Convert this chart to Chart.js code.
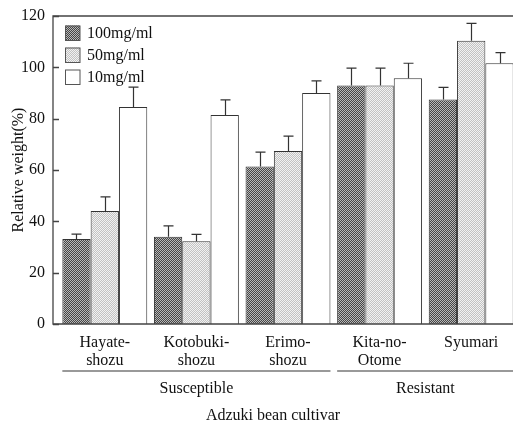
<!DOCTYPE html>
<html>
<head>
<meta charset="utf-8">
<script src="https://cdn.jsdelivr.net/npm/chart.js@4"></script>
<style>
  html, body { margin: 0; padding: 0; background: #fff; overflow: hidden; }
  #wrap { width: 513px; height: 422px; overflow: hidden; }
</style>
</head>
<body>
<div id="wrap"><canvas id="weights" width="520" height="422"></canvas></div>
<script>
// cultivars on the x axis (multi-line labels)
const cultivars = [['Hayate-', 'shozu'], ['Kotobuki-', 'shozu'], ['Erimo-', 'shozu'], ['Kita-no-', 'Otome'], ['Syumari']];
const doses = ['100mg/ml', '50mg/ml', '10mg/ml'];

// relative weight (%) and error (upper bar only)
const dose100 = [33.1, 34.0, 61.4, 92.9, 87.5];
const dose100Err = [1.9, 4.2, 5.6, 6.8, 4.7];
const dose50 = [44.0, 32.2, 67.4, 92.9, 110.4];
const dose50Err = [5.5, 2.7, 5.8, 6.8, 6.7];
const dose10 = [84.5, 81.4, 90.0, 95.7, 101.6];
const dose10Err = [7.8, 5.9, 4.7, 5.9, 4.1];

const groupNames = ['Susceptible', 'Resistant'];
const groupMembers = [[0, 1, 2], [3, 4]];

const yTicks = [0, 20, 40, 60, 80, 100, 120];

const FONT = '"Liberation Serif", "Times New Roman", serif';
const AXIS_X = 53;      // where the left frame line sits
const CAT_PCT = 0.927;

function checker(a, b) {
  const c = document.createElement('canvas');
  c.width = 2; c.height = 2;
  const g = c.getContext('2d');
  g.fillStyle = a; g.fillRect(0, 0, 2, 2);
  g.fillStyle = b; g.fillRect(0, 0, 1, 1); g.fillRect(1, 1, 1, 1);
  return g.createPattern(c, 'repeat');
}
const darkFill = checker('#454545', '#b8b8b8');
const lightFill = checker('#c2c2c2', '#f2f2f2');

const extras = {
  id: 'extras',
  afterDatasetsDraw(chart) {
    const ctx = chart.ctx;
    const area = chart.chartArea;
    const x = chart.scales.x, y = chart.scales.y;
    ctx.save();

    // error bars
    ctx.strokeStyle = '#333';
    ctx.lineWidth = 1.2;
    chart.data.datasets.forEach((ds, di) => {
      const meta = chart.getDatasetMeta(di);
      meta.data.forEach((bar, i) => {
        const top = y.getPixelForValue(ds.data[i] + ds.err[i]);
        const cx = Math.round(bar.x) + 0.5;
        ctx.beginPath();
        ctx.moveTo(cx, bar.y);
        ctx.lineTo(cx, top);
        ctx.moveTo(cx - 5, top);
        ctx.lineTo(cx + 5, top);
        ctx.stroke();
      });
    });

    // frame: left, top, bottom
    ctx.strokeStyle = '#444';
    ctx.lineWidth = 1.3;
    ctx.beginPath();
    ctx.moveTo(chart.width, area.top);
    ctx.lineTo(AXIS_X, area.top);
    ctx.lineTo(AXIS_X, area.bottom);
    ctx.lineTo(chart.width, area.bottom);
    ctx.stroke();

    // inward y ticks
    ctx.beginPath();
    yTicks.forEach(t => {
      const py = Math.round(y.getPixelForValue(t)) + 0.5;
      ctx.moveTo(AXIS_X, py);
      ctx.lineTo(AXIS_X + 6, py);
    });
    ctx.stroke();

    // legend
    const fills = [darkFill, lightFill, '#fff'];
    ctx.font = '16px ' + FONT;
    ctx.textBaseline = 'middle';
    ctx.textAlign = 'left';
    doses.forEach((d, i) => {
      const ly = 33 + i * 22;
      ctx.fillStyle = fills[i];
      ctx.fillRect(65, ly - 7.5, 15, 15);
      ctx.strokeStyle = '#555';
      ctx.lineWidth = 1;
      ctx.strokeRect(65.5, ly - 7, 14.5, 14.5);
      ctx.fillStyle = '#111';
      ctx.fillText(d, 87, ly + 1);
    });

    // group lines and names
    const slot = x.getPixelForValue(1) - x.getPixelForValue(0);
    const half = slot * CAT_PCT / 2;
    ctx.textAlign = 'center';
    groupMembers.forEach((m, gi) => {
      const first = x.getPixelForValue(m[0]);
      const last = x.getPixelForValue(m[m.length - 1]);
      ctx.strokeStyle = '#999';
      ctx.lineWidth = 2;
      ctx.beginPath();
      ctx.moveTo(first - half, 371);
      ctx.lineTo(last + half, 371);
      ctx.stroke();
      ctx.fillStyle = '#111';
      ctx.fillText(groupNames[gi], (first + last) / 2, 389);
    });

    // x title
    ctx.fillText('Adzuki bean cultivar', 273, 416);
    ctx.restore();
  }
};

new Chart(document.getElementById('weights'), {
  type: 'bar',
  data: {
    labels: cultivars,
    datasets: [
      { label: doses[0], data: dose100, err: dose100Err, backgroundColor: darkFill },
      { label: doses[1], data: dose50, err: dose50Err, backgroundColor: lightFill },
      { label: doses[2], data: dose10, err: dose10Err, backgroundColor: '#fff' }
    ]
  },
  options: {
    responsive: false,
    animation: false,
    events: [],
    layout: { padding: { top: 16, right: 3, left: 0, bottom: 0 } },
    datasets: {
      bar: {
        borderColor: '#333',
        borderWidth: 1,
        categoryPercentage: CAT_PCT,
        barPercentage: 1
      }
    },
    plugins: { legend: { display: false }, tooltip: { enabled: false } },
    scales: {
      x: {
        grid: { display: false, drawTicks: false },
        border: { display: false },
        afterFit(scale) { scale.height = 98; scale.paddingLeft = 0; scale.paddingRight = 0; },
        ticks: {
          autoSkip: false,
          maxRotation: 0,
          padding: 10,
          color: '#111',
          font: { family: FONT, size: 16, lineHeight: 1.1 }
        }
      },
      y: {
        min: 0,
        max: 120,
        grid: { display: false, drawTicks: false },
        border: { display: false },
        afterFit(scale) { scale.width = 59; scale.paddingTop = 0; scale.paddingBottom = 0; },
        ticks: {
          stepSize: 20,
          padding: 14,
          color: '#111',
          font: { family: FONT, size: 16 }
        },
        title: {
          display: true,
          text: 'Relative weight(%)',
          color: '#111',
          padding: { top: 9, bottom: 0 },
          font: { family: FONT, size: 16 }
        }
      }
    }
  },
  plugins: [extras]
});
</script>
</body>
</html>
